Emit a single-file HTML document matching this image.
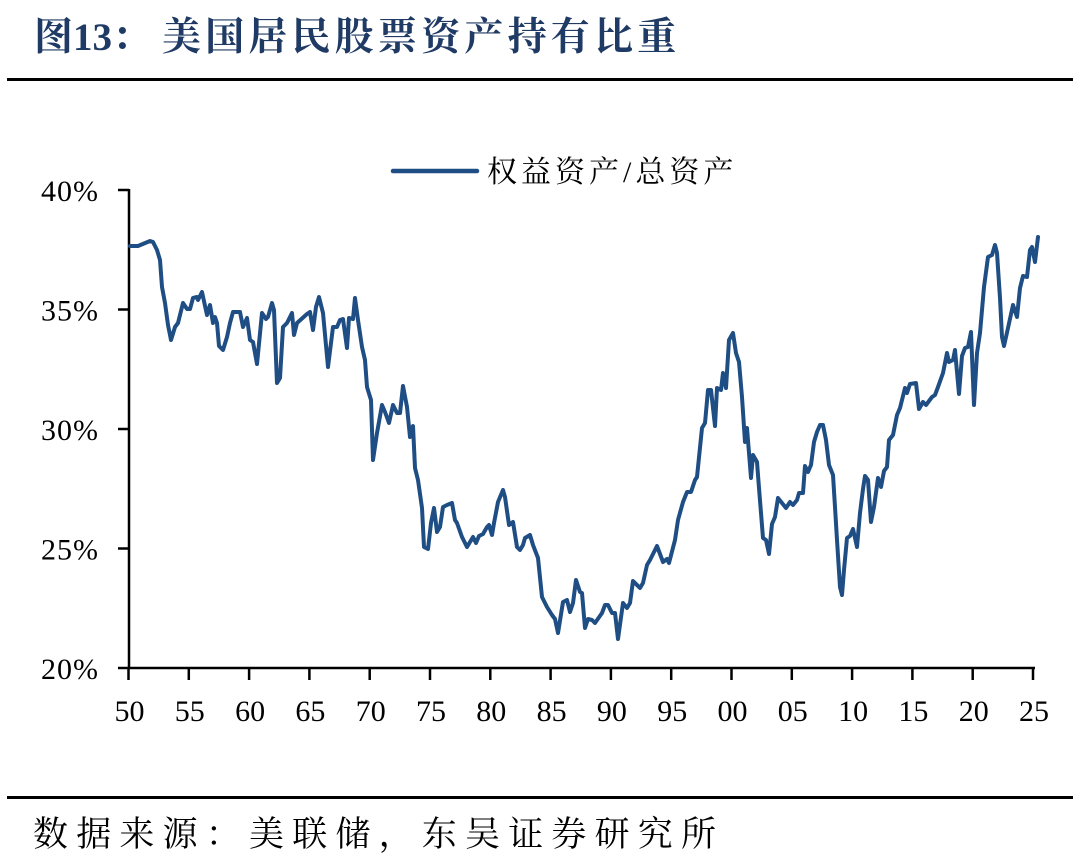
<!DOCTYPE html>
<html>
<head>
<meta charset="utf-8">
<style>
html,body{margin:0;padding:0;background:#fff;}
body{width:1080px;height:864px;position:relative;overflow:hidden;}
.t{position:absolute;white-space:nowrap;}
</style>
</head>
<body>
<div class="t" style="left:34px;top:13px;font-family:'Liberation Serif','Noto Serif CJK SC',serif;font-weight:bold;font-size:39px;line-height:50px;color:#1f3a64;">图13：</div>
<div class="t" style="left:162px;top:13px;font-family:'Liberation Serif','Noto Serif CJK SC',serif;font-weight:bold;font-size:39px;line-height:50px;letter-spacing:4.2px;color:#1f3a64;">美国居民股票资产持有比重</div>
<div style="position:absolute;left:7px;top:78px;width:1066px;height:3px;background:#000;"></div>

<svg style="position:absolute;left:0;top:0" width="1080" height="864" xmlns="http://www.w3.org/2000/svg">
  <line x1="393" y1="171" x2="477" y2="171" stroke="#1f4e84" stroke-width="4.5" stroke-linecap="round"/>
  <text x="487" y="182" font-family="Liberation Serif, Noto Serif CJK SC, serif" font-size="30" letter-spacing="4" fill="#000">权益资产/总资产</text>

  <g stroke="#000" stroke-width="2.5" fill="none">
    <line x1="129" y1="189" x2="129" y2="669"/>
    <line x1="128" y1="668" x2="1035" y2="668"/>
    <line x1="118" y1="190" x2="129" y2="190"/>
    <line x1="118" y1="309.5" x2="129" y2="309.5"/>
    <line x1="118" y1="429" x2="129" y2="429"/>
    <line x1="118" y1="548.5" x2="129" y2="548.5"/>
    <line x1="118" y1="668" x2="129" y2="668"/>
    <line x1="128.5" y1="668" x2="128.5" y2="680"/>
    <line x1="188.8" y1="668" x2="188.8" y2="680"/>
    <line x1="249.1" y1="668" x2="249.1" y2="680"/>
    <line x1="309.4" y1="668" x2="309.4" y2="680"/>
    <line x1="369.7" y1="668" x2="369.7" y2="680"/>
    <line x1="430.0" y1="668" x2="430.0" y2="680"/>
    <line x1="490.3" y1="668" x2="490.3" y2="680"/>
    <line x1="550.6" y1="668" x2="550.6" y2="680"/>
    <line x1="610.9" y1="668" x2="610.9" y2="680"/>
    <line x1="671.2" y1="668" x2="671.2" y2="680"/>
    <line x1="731.5" y1="668" x2="731.5" y2="680"/>
    <line x1="791.8" y1="668" x2="791.8" y2="680"/>
    <line x1="852.1" y1="668" x2="852.1" y2="680"/>
    <line x1="912.4" y1="668" x2="912.4" y2="680"/>
    <line x1="972.7" y1="668" x2="972.7" y2="680"/>
    <line x1="1033.0" y1="668" x2="1033.0" y2="680"/>
  </g>

  <g font-family="Liberation Serif, serif" font-size="30" fill="#000" text-anchor="end">
    <text x="99" y="201" letter-spacing="1">40%</text>
    <text x="99" y="320.5" letter-spacing="1">35%</text>
    <text x="99" y="440" letter-spacing="1">30%</text>
    <text x="99" y="559.5" letter-spacing="1">25%</text>
    <text x="99" y="679" letter-spacing="1">20%</text>
  </g>
  <g font-family="Liberation Serif, serif" font-size="30" fill="#000" text-anchor="middle">
    <text x="129.5" y="721">50</text>
    <text x="189.8" y="721">55</text>
    <text x="250.1" y="721">60</text>
    <text x="310.4" y="721">65</text>
    <text x="370.7" y="721">70</text>
    <text x="431.0" y="721">75</text>
    <text x="491.3" y="721">80</text>
    <text x="551.6" y="721">85</text>
    <text x="611.9" y="721">90</text>
    <text x="672.2" y="721">95</text>
    <text x="732.5" y="721">00</text>
    <text x="792.8" y="721">05</text>
    <text x="853.1" y="721">10</text>
    <text x="913.4" y="721">15</text>
    <text x="973.7" y="721">20</text>
    <text x="1034.0" y="721">25</text>
  </g>

  <polyline fill="none" stroke="#1f4e84" stroke-width="4" stroke-linejoin="round" stroke-linecap="round" points="130,246 138,246 150,241 153,242 157,250 160,260 162,287 165,303 168,325 171,340 175,327 178,323 183,303 187,309 190,309 193,298 197,297 198,300 202,292 207,315 210,305 213,323 215,317 217,323 219,346 223,350 227,337 230,323 233,312 240,312 243,327 247,318 250,340 253,342 257,364 262,313 266,319 268,317 272,303 274,310 277,383 280,378 283,327 287,323 292,313 294,335 297,323 307,314 310,312 313,330 316,307 319,297 323,313 328,367 333,327 337,327 340,320 343,319 347,348 349,318 353,319 355,298 358,320 362,347 365,360 367,387 371,400 373,460 377,433 382,405 385,412 389,423 393,405 397,413 400,413 403,386 407,407 410,437 413,426 415,468 418,480 422,508 424,547 428,549 431,523 434,508 437,532 440,527 443,507 447,505 452,503 455,520 457,523 462,537 467,547 473,537 476,543 479,536 483,534 487,527 489,525 492,535 494,523 498,502 503,490 505,497 509,525 513,522 517,547 520,550 523,545 525,538 530,535 533,545 538,558 542,597 547,607 552,615 555,619 558,633 563,602 567,600 570,612 573,603 576,580 580,592 582,593 585,628 588,619 592,620 595,623 602,613 605,605 608,605 612,613 615,613 618,639 623,603 627,608 630,603 633,581 640,588 643,583 647,565 650,560 657,546 663,562 667,559 669,563 675,540 678,520 683,502 687,492 691,492 695,480 697,477 702,428 705,423 708,390 711,390 715,426 717,388 721,390 723,373 726,388 729,340 733,333 736,353 739,362 742,397 745,442 747,428 751,478 753,455 757,462 759,488 763,538 766,540 769,554 772,524 775,517 778,498 786,508 790,502 793,505 797,500 799,493 803,493 805,466 808,472 811,465 814,442 817,432 820,425 823,425 826,440 829,465 833,475 835,507 837,540 840,587 842,595 844,570 847,538 850,536 853,529 857,547 860,513 863,489 865,476 868,480 871,522 874,507 878,478 881,487 884,471 887,467 889,440 893,435 897,415 900,408 905,388 907,393 910,384 916,383 919,409 923,402 926,405 932,397 935,395 938,387 943,373 947,353 949,362 953,360 955,350 959,394 962,356 965,348 968,347 971,332 974,405 977,353 980,333 984,287 988,257 992,255 995,245 997,253 1000,298 1002,337 1004,346 1008,328 1013,305 1017,317 1020,288 1023,276 1027,277 1030,250 1032,247 1035,262 1038,237"/>
</svg>

<div style="position:absolute;left:7px;top:796px;width:1066px;height:3px;background:#000;"></div>
<div class="t" style="left:33px;top:812px;font-family:'Liberation Serif','Noto Serif CJK SC',serif;font-size:35px;line-height:46px;letter-spacing:8.2px;color:#000;">数据来源：美联储，东吴证券研究所</div>
</body>
</html>
